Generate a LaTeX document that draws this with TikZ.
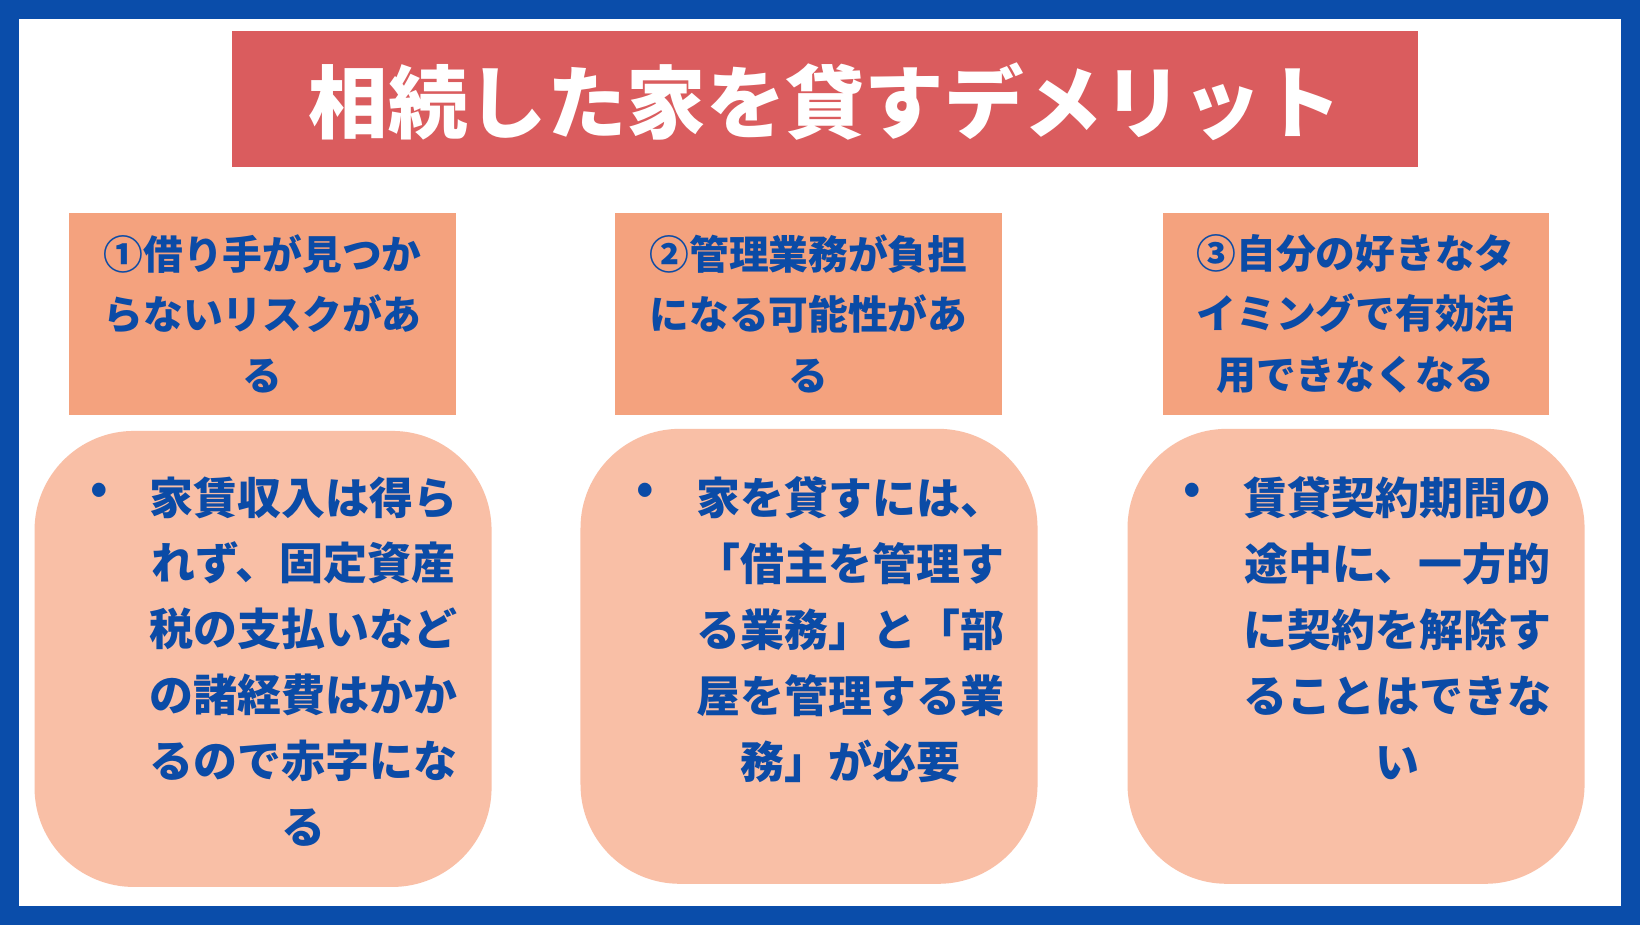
\documentclass[tikz,border=0pt]{standalone}
\usepackage{fontspec}
\newfontfamily\cjk{Noto Sans CJK JP}
\definecolor{frame}{HTML}{0A4DAA}
\definecolor{titlebg}{HTML}{DA5C5E}
\definecolor{headbg}{HTML}{F4A27E}
\definecolor{bodybg}{HTML}{F9BFA6}
\definecolor{txt}{HTML}{0B4BA6}
\tikzset{
 headbox/.style={fill=headbg,draw=none},
 bodybox/.style={fill=bodybg,draw=none,rounded corners=95pt},
 headtxt/.style={text=txt,font=\cjk\bfseries\fontsize{38}{58}\selectfont,align=center},
 bodytxt/.style={text=txt,font=\cjk\bfseries\fontsize{42}{63}\selectfont,align=center,anchor=north},
 bullet/.style={text=txt,font=\cjk\bfseries\fontsize{42}{63}\selectfont,anchor=north}
}
\begin{document}
\begin{tikzpicture}[x=1pt,y=-1pt]
\useasboundingbox (0,0) rectangle (1568,884);
\fill[frame] (0,0) rectangle (1568,884);
\fill[white] (18,18) rectangle (1550,866);
\fill[titlebg] (222,30) rectangle (1356,160);
\node[text=white,font=\cjk\bfseries\fontsize{76}{80}\selectfont] (title) at (789,97) {相続した家を貸すデメリット};
% headings
\fill[headbox] (66,204) rectangle (436,397);
\fill[headbox] (588,204) rectangle (958,397);
\fill[headbox] (1112,204) rectangle (1481,397);
\node[headtxt] (h1) at (251,300) {①借り手が見つか\\らないリスクがあ\\る};
\node[headtxt] (h2) at (773,300) {②管理業務が負担\\になる可能性があ\\る};
\node[headtxt] (h3) at (1296,300) {③自分の好きなタ\\イミングで有効活\\用できなくなる};
% bodies
\fill[bodybox] (33,412) rectangle (470,848);
\fill[bodybox] (555,410) rectangle (992,845);
\fill[bodybox] (1078,410) rectangle (1515,845);
\node[bullet] (b1) at (95,458) {•};
\node[bullet] (b2) at (617,458) {•};
\node[bullet] (b3) at (1140,458) {•};
\node[bodytxt] (t1) at (290,452) {家賃収入は得ら\\れず、固定資産\\税の支払いなど\\の諸経費はかか\\るので赤字にな\\る};
\node[bodytxt] (t2) at (813,452) {家を貸すには、\\「借主を管理す\\る業務」と「部\\屋を管理する業\\務」が必要};
\node[bodytxt] (t3) at (1336,452) {賃貸契約期間の\\途中に、一方的\\に契約を解除す\\ることはできな\\い};
\end{tikzpicture}
\end{document}
